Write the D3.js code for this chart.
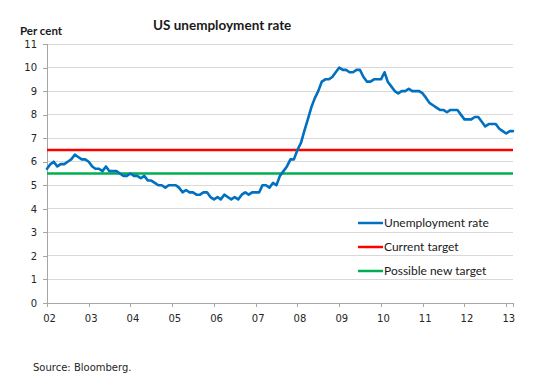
<!DOCTYPE html>
<html>
<head>
<meta charset="utf-8">
<script src="https://cdn.jsdelivr.net/npm/d3@7/dist/d3.min.js"></script>
<style>
  html, body { margin: 0; padding: 0; background: #fff; }
  svg { display: block; }
</style>
</head>
<body>
<svg id="chart" width="540" height="380"></svg>
<script>
// ---- data (monthly) ----
const startMonth = "2002-01";
const unemployment = [
  5.7, 5.9, 6.0, 5.8, 5.9, 5.9, 6.0, 6.1, 6.3, 6.2, 6.1, 6.1,
  6.0, 5.8, 5.7, 5.7, 5.6, 5.8, 5.6, 5.6, 5.6, 5.5, 5.4, 5.4,
  5.5, 5.4, 5.4, 5.3, 5.4, 5.2, 5.2, 5.1, 5.0, 5.0, 4.9, 5.0,
  5.0, 5.0, 4.9, 4.7, 4.8, 4.7, 4.7, 4.6, 4.6, 4.7, 4.7, 4.5,
  4.4, 4.5, 4.4, 4.6, 4.5, 4.4, 4.5, 4.4, 4.6, 4.7, 4.6, 4.7,
  4.7, 4.7, 5.0, 5.0, 4.9, 5.1, 5.0, 5.4, 5.6, 5.8, 6.1, 6.1,
  6.5, 6.8, 7.3, 7.8, 8.3, 8.7, 9.0, 9.4, 9.5, 9.5, 9.6, 9.8,
  10.0, 9.9, 9.9, 9.8, 9.8, 9.9, 9.9, 9.6, 9.4, 9.4, 9.5, 9.5,
  9.5, 9.8, 9.4, 9.2, 9.0, 8.9, 9.0, 9.0, 9.1, 9.0, 9.0, 9.0,
  8.9, 8.7, 8.5, 8.4, 8.3, 8.2, 8.2, 8.1, 8.2, 8.2, 8.2, 8.0,
  7.8, 7.8, 7.8, 7.9, 7.9, 7.7, 7.5, 7.6, 7.6, 7.6, 7.4, 7.3,
  7.2, 7.3, 7.3
];
const currentTarget = 6.5;
const possibleNewTarget = 5.5;
const yTicks = [0, 1, 2, 3, 4, 5, 6, 7, 8, 9, 10, 11];
const xTickYears = [2002, 2003, 2004, 2005, 2006, 2007, 2008, 2009, 2010, 2011, 2012, 2013];
const seriesNames = ["Unemployment rate", "Current target", "Possible new target"];
const seriesColors = ["#0070C0", "#FF0000", "#00B050"];
const titleText = "US unemployment rate";
const unitText = "Per cent";
const sourceText = "Source: Bloomberg.";

// ---- chart ----
const svg = d3.select("#chart");
const parseMonth = d3.timeParse("%Y-%m");
const t0 = parseMonth(startMonth);
const points = unemployment.map((v, i) => ({ date: d3.timeMonth.offset(t0, i), value: v }));
const tEnd = points[points.length - 1].date;

const plot = { left: 47, right: 513, top: 44, bottom: 303 };

const x = d3.scaleTime().domain([t0, tEnd]).range([plot.left, plot.right]);
const y = d3.scaleLinear().domain([0, 11]).range([plot.bottom, plot.top]);

const tickFont = "'DejaVu Sans', Verdana, sans-serif";
const labelFont = "Lato, 'Open Sans', sans-serif";

// gridlines
svg.append("g")
  .selectAll("line")
  .data(yTicks.filter(d => d > 0))
  .join("line")
  .attr("x1", plot.left).attr("x2", plot.right)
  .attr("y1", d => y(d)).attr("y2", d => y(d))
  .attr("stroke", "#d9d9d9").attr("stroke-width", 1)
  .attr("shape-rendering", "crispEdges");

// y axis
const yAxis = svg.append("g")
  .attr("transform", `translate(${plot.left},0)`)
  .call(d3.axisLeft(y).tickValues(yTicks).tickSize(4).tickPadding(6).tickFormat(d3.format("d")));
yAxis.select(".domain").attr("stroke", "#a6a6a6").attr("shape-rendering", "crispEdges");
yAxis.selectAll(".tick line").attr("stroke", "#a6a6a6").attr("shape-rendering", "crispEdges");
yAxis.selectAll("text").attr("font-family", tickFont).attr("font-size", 10).attr("fill", "#262626");

// x axis
const xAxis = svg.append("g")
  .attr("transform", `translate(0,${plot.bottom})`)
  .call(d3.axisBottom(x)
    .tickValues(xTickYears.map(yr => new Date(yr, 0, 1)))
    .tickSize(4).tickPadding(8)
    .tickFormat(d3.timeFormat("%y")));
xAxis.select(".domain").attr("stroke", "#a6a6a6").attr("shape-rendering", "crispEdges");
xAxis.selectAll(".tick line").attr("stroke", "#a6a6a6").attr("shape-rendering", "crispEdges");
xAxis.selectAll("text").attr("font-family", tickFont).attr("font-size", 10).attr("fill", "#262626").attr("dx", 2);

// target lines
const targets = [currentTarget, possibleNewTarget];
svg.append("g")
  .selectAll("line")
  .data(targets)
  .join("line")
  .attr("x1", x(t0)).attr("x2", x(tEnd))
  .attr("y1", d => y(d)).attr("y2", d => y(d))
  .attr("stroke", (d, i) => seriesColors[i + 1])
  .attr("stroke-width", 2.5);

// unemployment line
const line = d3.line().x(d => x(d.date)).y(d => y(d.value));
svg.append("path")
  .datum(points)
  .attr("d", line)
  .attr("fill", "none")
  .attr("stroke", seriesColors[0])
  .attr("stroke-width", 2.6)
  .attr("stroke-linejoin", "round")
  .attr("stroke-linecap", "round");

// legend
const legend = svg.append("g").attr("transform", "translate(358,223)");
const item = legend.selectAll("g").data(seriesNames).join("g")
  .attr("transform", (d, i) => `translate(0,${i * 24})`);
item.append("line").attr("x1", 0).attr("x2", 25).attr("y1", 0).attr("y2", 0)
  .attr("stroke", (d, i) => seriesColors[i]).attr("stroke-width", 2.5);
item.append("text").attr("x", 26).attr("y", 4)
  .attr("font-family", labelFont).attr("font-size", 12).attr("fill", "#1a1a1a")
  .text(d => d);

// titles
svg.append("text").attr("x", 153).attr("y", 30)
  .attr("font-family", labelFont).attr("font-size", 13.5).attr("font-weight", "bold").attr("fill", "#1a1a1a")
  .text(titleText);
svg.append("text").attr("x", 20).attr("y", 35)
  .attr("font-family", labelFont).attr("font-size", 11.5).attr("font-weight", "bold").attr("fill", "#1a1a1a")
  .text(unitText);
svg.append("text").attr("x", 33).attr("y", 371)
  .attr("font-family", tickFont).attr("font-size", 10).attr("fill", "#262626")
  .text(sourceText);
</script>
</body>
</html>
